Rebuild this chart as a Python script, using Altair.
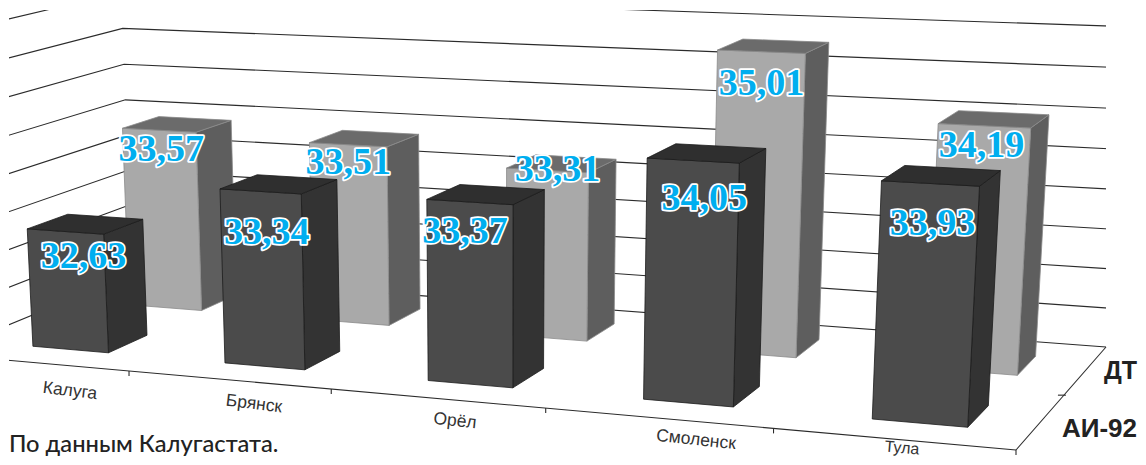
import altair as alt
import pandas as pd

categories = ["Калуга", "Брянск", "Орёл", "Смоленск", "Тула"]
series = ["АИ-92", "ДТ"]
ai92 = [32.63, 33.34, 33.37, 34.05, 33.93]
dt = [33.57, 33.51, 33.31, 35.01, 34.19]

# layout constants (not data)
W, H = 1130, 449
BASE, STEP, NLINES = 31.0, 0.53, 9
P0, P1, P2, P3 = (-62, 354), (1016, 450), (1106, 347), (132, 274)
VP = (500, 10000)
UNIT_BL = 65
BAR_SHIFT = 0.008
BAR_HW, BAR_HD = 0.04, 0.1
AI_OFF = [(18, 25), (6, 42), (-5, 30), (11, 38), (2, 40)]
DT_OFF = [(2, 20), (0, 18), (10, 0), (0, 32), (-3, 20)]
CAT_POS = [(70, 391, 7), (254, 404, 7), (455, 421, 6), (696, 440, 6), (902, 448, 5)]
FILL = {
    0: {"front": "#4b4b4b", "side": "#333333", "top": "#2f2f2f", "line": "#1c1c1c"},
    1: {"front": "#a9a9a9", "side": "#5e5e5e", "top": "#6b6b6b", "line": "#8a8a8a"},
}


def homography(p0, p1, p2, p3):
    x0, y0 = p0; x1, y1 = p1; x2, y2 = p2; x3, y3 = p3
    dx1, dx2, sx = x1 - x2, x3 - x2, x0 - x1 + x2 - x3
    dy1, dy2, sy = y1 - y2, y3 - y2, y0 - y1 + y2 - y3
    den = dx1 * dy2 - dy1 * dx2
    g = (sx * dy2 - sy * dx2) / den
    h = (dx1 * sy - dy1 * sx) / den
    return (x1 - x0 + g * x1, x3 - x0 + h * x3, x0,
            y1 - y0 + g * y1, y3 - y0 + h * y3, y0, g, h)


A, B, C, D, E, F, G, HH = homography(P0, P1, P2, P3)
wbl = HH + 1
S = -UNIT_BL * wbl / (VP[1] - (P3[1] - UNIT_BL))


def proj(X, Y, Z=0.0):
    u = A * X + B * Y + C + Z * S * VP[0]
    v = D * X + E * Y + F + Z * S * VP[1]
    w = G * X + HH * Y + 1 + Z * S
    return u / w, v / w


rows = []
def seg(name, a, b):
    rows.append({"id": name, "k": 0, "x": a[0], "y": a[1]})
    rows.append({"id": name, "k": 1, "x": b[0], "y": b[1]})

for n in range(NLINES):
    z = n * STEP
    a, b, c = proj(0, 0, z), proj(0, 1, z), proj(1, 1, z)
    rows += [{"id": f"g{n}", "k": 0, "x": a[0], "y": a[1]},
             {"id": f"g{n}", "k": 1, "x": b[0], "y": b[1]},
             {"id": f"g{n}", "k": 2, "x": c[0], "y": c[1]}]
seg("front", proj(0, 0), proj(1, 0))
seg("right", proj(1, 0), proj(1, 1))
for i in range(1, 6):
    p = proj(i / 5, 0)
    seg(f"t{i}", p, (p[0], p[1] + 5))
p = proj(1, 0.5)
seg("tm", (p[0] - 6, p[1]), (p[0] + 2, p[1]))
grid_df = pd.DataFrame(rows)

polys = []
def poly(name, pts, fill, line):
    for k, (x, y) in enumerate(pts + pts[:1]):
        polys.append({"id": name, "k": k, "x": x, "y": y, "fill": fill, "line": line})

for s, vals in [(1, dt), (0, ai92)]:
    for i, v in enumerate(vals):
        z = v - BASE
        xc = (i + .5) / 5 + BAR_SHIFT
        xa, xb = xc - BAR_HW, xc + BAR_HW
        ya, yb = (s + .5) / 2 - BAR_HD, (s + .5) / 2 + BAR_HD
        col = FILL[s]
        poly(f"{s}-{i}-s", [proj(xb, ya), proj(xb, yb), proj(xb, yb, z), proj(xb, ya, z)], col["side"], col["line"])
        poly(f"{s}-{i}-f", [proj(xa, ya), proj(xb, ya), proj(xb, ya, z), proj(xa, ya, z)], col["front"], col["line"])
        poly(f"{s}-{i}-t", [proj(xa, ya, z), proj(xb, ya, z), proj(xb, yb, z), proj(xa, yb, z)], col["top"], col["line"])
poly_df = pd.DataFrame(polys)

labs = []
for s, vals, off in [(1, dt, DT_OFF), (0, ai92, AI_OFF)]:
    for i, v in enumerate(vals):
        xc = (i + .5) / 5 + BAR_SHIFT
        xa, xb = xc - BAR_HW, xc + BAR_HW
        ya = (s + .5) / 2 - BAR_HD
        pa, pb = proj(xa, ya, v - BASE), proj(xb, ya, v - BASE)
        labs.append({"x": (pa[0] + pb[0]) / 2 + off[i][0], "y": (pa[1] + pb[1]) / 2 + off[i][1],
                     "t": f"{v:.2f}".replace(".", ",")})
lab_df = pd.DataFrame(labs)

xs = alt.Scale(domain=[8, 8 + W], range=[0, W])
ys = alt.Scale(domain=[8, 8 + H], range=[0, H])
X = alt.X("x:Q", scale=xs, axis=None)
Y = alt.Y("y:Q", scale=ys, axis=None)

grid = alt.Chart(grid_df).mark_line(color="#2b2b2b", strokeWidth=1.1).encode(
    x=X, y=Y, detail="id:N", order="k:Q")

mask_df = pd.DataFrame([
    {"x": -100, "x2": 9, "y": -10, "y2": 465},
    {"x": 1106, "x2": 1200, "y": -10, "y2": 345},
    {"x": -100, "x2": 1200, "y": -10, "y2": 10},
])
mask = alt.Chart(mask_df).mark_rect(color="white").encode(
    x=X, x2="x2:Q", y=Y, y2="y2:Q")

bars = alt.Chart(poly_df).mark_line(strokeWidth=0.8, strokeJoin="round").encode(
    x=X, y=Y, detail="id:N", order="k:Q",
    fill=alt.Fill("fill:N", scale=None),
    stroke=alt.Stroke("line:N", scale=None))

vfont = dict(font="Liberation Serif", fontWeight="bold", fontSize=38, align="center", baseline="middle")
halo = alt.Chart(lab_df).mark_text(color="white", stroke="white", strokeWidth=3.5, strokeJoin="round", **vfont).encode(
    x=X, y=Y, text="t:N")
core = alt.Chart(lab_df).mark_text(color="#00AEEF", **vfont).encode(x=X, y=Y, text="t:N")

cat_layers = []
for name, (cx, cy, ang) in zip(categories, CAT_POS):
    cat_layers.append(
        alt.Chart(pd.DataFrame([{"x": cx, "y": cy, "t": name}])).mark_text(
            font="Liberation Sans", fontSize=16 if name == "Тула" else 17.5, color="#333333", angle=ang,
            align="center", baseline="middle"
        ).encode(x=X, y=Y, text="t:N"))

ser = [
    alt.Chart(pd.DataFrame([{"x": 1137, "y": 371, "t": series[1]}])).mark_text(
        font="Liberation Sans", fontWeight="bold", color="#222222", align="right", baseline="middle", fontSize=25
    ).encode(x=X, y=Y, text="t:N"),
    alt.Chart(pd.DataFrame([{"x": 1137, "y": 429, "t": series[0]}])).mark_text(
        font="Liberation Sans", fontWeight="bold", color="#222222", align="right", baseline="middle", fontSize=26
    ).encode(x=X, y=Y, text="t:N"),
]

foot = alt.Chart(pd.DataFrame([{"x": 9, "y": 445, "t": "По данным Калугастата."}])).mark_text(
    font="Lato", fontSize=23.7, fontWeight=500, color="#222222", align="left", baseline="middle"
).encode(x=X, y=Y, text="t:N")

chart = alt.layer(grid, mask, bars, halo, core, *cat_layers, *ser, foot).properties(
    width=W, height=H, padding=0, autosize=alt.AutoSizeParams(type="none"), background="white"
).configure_view(stroke=None)

chart.save("out.html", embed_options={"renderer": "svg", "actions": False})
